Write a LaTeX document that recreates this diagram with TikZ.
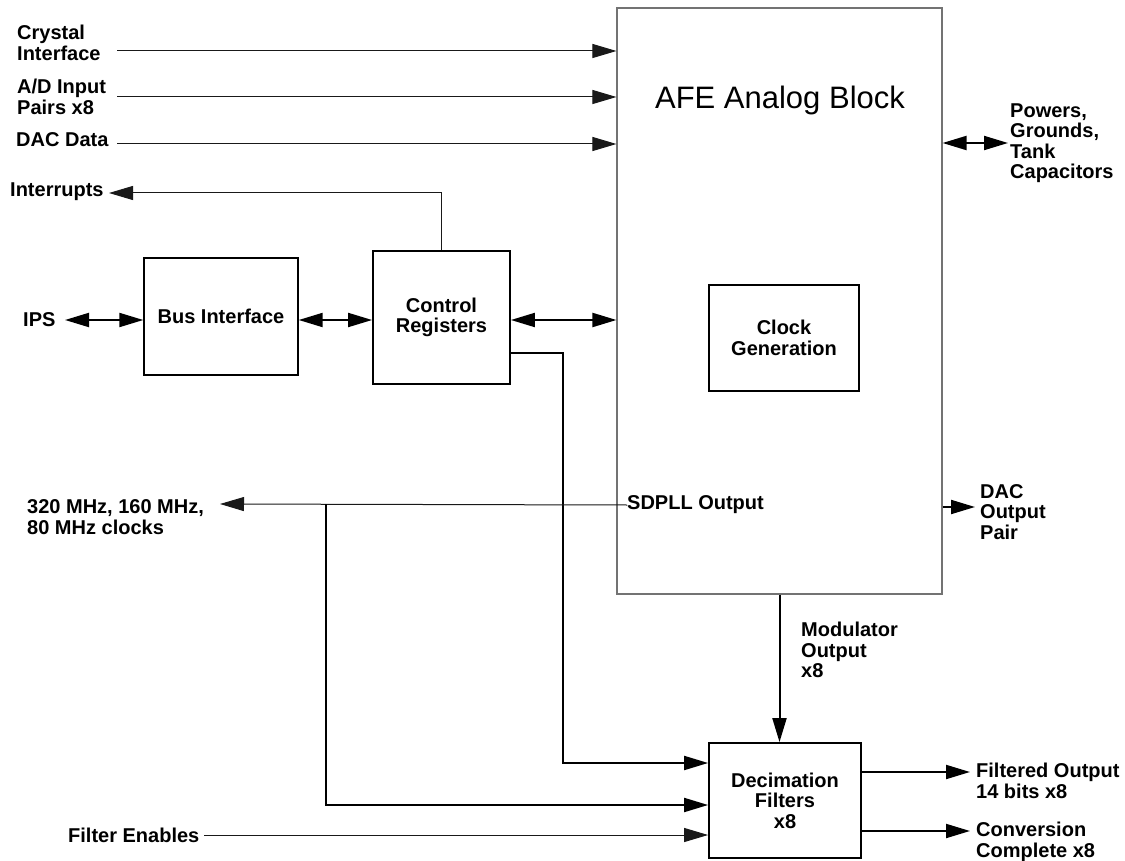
\documentclass[tikz,border=0pt]{standalone}
\usepackage{fontspec}
\setmainfont{Liberation Sans}
\usetikzlibrary{arrows.meta}
\begin{document}
\begin{tikzpicture}[x=1pt,y=-1pt,
  lbl/.style={font=\fontsize{20}{20.5}\selectfont\bfseries, align=left, inner sep=0pt, anchor=west},
  blk/.style={draw, line width=1.8pt, font=\fontsize{20}{20.5}\selectfont\bfseries, align=center, inner sep=0pt},
  afebox/.style={draw=black!55, line width=1.1pt},
  thinln/.style={line width=1pt, draw=black!90},
  thickln/.style={line width=2pt},
  bigtip/.tip={Triangle[length=24pt,width=14pt]},
  sigln/.style={thinln, -bigtip},
  busln/.style={thickln, bigtip-bigtip},
  outln/.style={thickln, -bigtip}]
\path[use as bounding box, fill=white] (0,0) rectangle (1125,861);

% blocks
\node[afebox, minimum width=325pt, minimum height=586pt] (afe) at (779.5,301) {};
\node[font=\fontsize{31}{36}\selectfont, inner sep=0pt] (afelbl) at (780,100) {AFE Analog Block};
\node[blk, line width=1.4pt, minimum width=150pt, minimum height=106pt] (clkgen) at (784,338) {Clock\\Generation};
\node[blk, line width=1.4pt, minimum width=154pt, minimum height=117pt] (busif) at (221,316.5) {Bus Interface};
\node[blk, minimum width=137pt, minimum height=133pt] (ctrl) at (441.5,317.5) {Control\\Registers};
\node[blk, minimum width=152pt, minimum height=115pt] (dec) at (785,800.5) {Decimation\\Filters\\x8};

% labels
\node[lbl] (crys) at (17,43) {Crystal\\Interface};
\node[lbl] (adin) at (17,97) {A/D Input\\Pairs x8};
\node[lbl] (dacd) at (16,140) {DAC Data};
\node[lbl] (intr) at (10,192) {Interrupts};
\node[lbl] (ips) at (23,320) {IPS};
\node[lbl] (clks) at (27,517) {320 MHz, 160 MHz,\\80 MHz clocks};
\node[lbl] (fen) at (68,835) {Filter Enables};
\node[lbl] (sdpll) at (627,505) {SDPLL Output};
\node[lbl] (pwr) at (1010,143) {Powers,\\Grounds,\\Tank\\Capacitors};
\node[lbl] (dacout) at (980,512) {DAC\\Output\\Pair};
\node[lbl] (modo) at (801,650) {Modulator\\Output\\x8};
\node[lbl] (filt) at (976,781) {Filtered Output\\14 bits x8};
\node[lbl] (conv) at (976,842) {Conversion\\Complete x8};

% free ends of the connectors
\coordinate (cin) at (117,51);
\coordinate (adi) at (117,97);
\coordinate (dci) at (117,144);
\coordinate (intip) at (109,193);
\coordinate (ipstip) at (65,320);
\coordinate (bro) at (0,320);
\coordinate (clktip) at (220,504);
\coordinate (jct) at (326,504);
\coordinate (ctrlout) at (563,353);
\coordinate (ctrlin) at (0,763);
\coordinate (clkin) at (0,805);
\coordinate (fenin) at (204,835);
\coordinate (pwrtip) at (1008,143);
\coordinate (dactip) at (975,507);
\coordinate (filttip) at (970,772);
\coordinate (convtip) at (970,831);

% inputs to the analog block
\draw[sigln] (cin) -- (afe.west |- cin);
\draw[sigln] (adi) -- (afe.west |- adi);
\draw[sigln] (dci) -- (afe.west |- dci);

% register interrupts
\draw[thinln, -bigtip] (ctrl.north) |- (intip);

% host bus
\draw[busln] (ipstip) -- (busif.west |- bro);
\draw[busln] (busif.east |- bro) -- (ctrl.west |- bro);
\draw[busln] (ctrl.east |- bro) -- (afe.west |- bro);

% control to decimation filters
\draw[outln] (ctrl.east |- ctrlout) -- (ctrlout) |- (dec.west |- ctrlin);

% clocks
\draw[thinln, -bigtip] (sdpll.west) -- (clktip);
\draw[outln] (jct) |- (dec.west |- clkin);
\draw[sigln] (fenin) -- (dec.west |- fenin);

% analog block right side
\draw[busln] (afe.east |- pwrtip) -- (pwrtip);
\draw[outln] (afe.east |- dactip) -- (dactip);

% modulator output
\draw[outln] (afe.south) -- (afe.south |- dec.north);

% filter outputs
\draw[outln] (dec.east |- filttip) -- (filttip);
\draw[outln] (dec.east |- convtip) -- (convtip);
\end{tikzpicture}
\end{document}
